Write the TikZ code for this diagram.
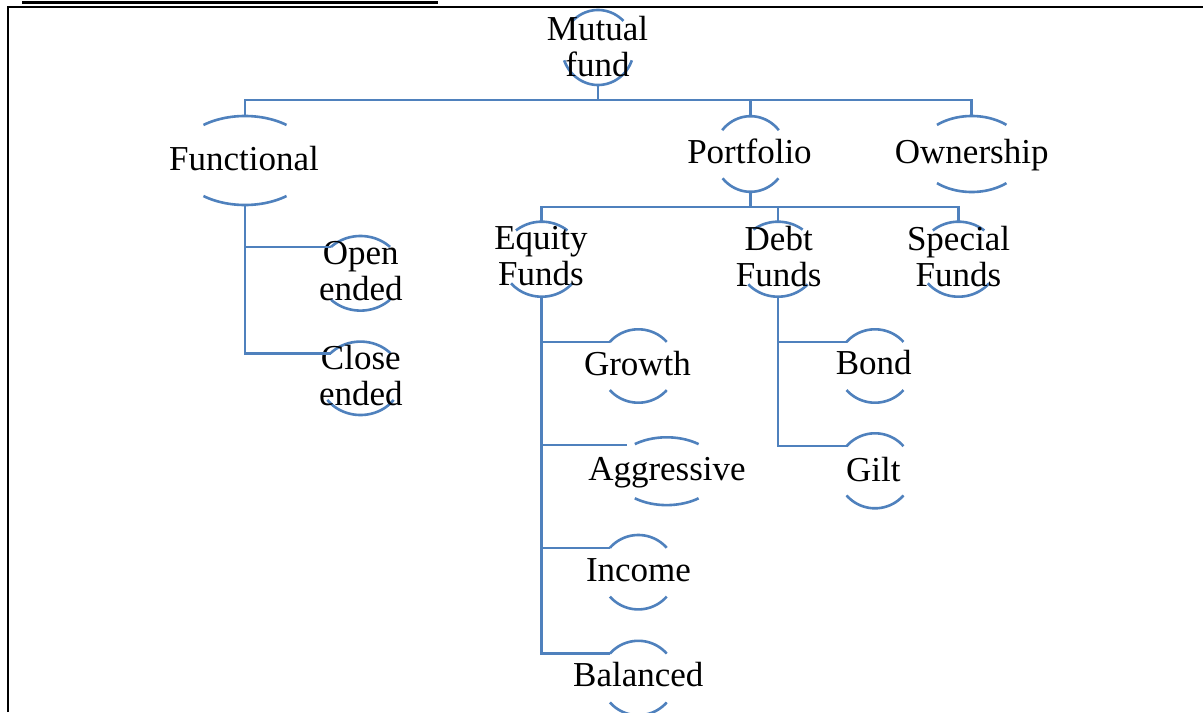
\documentclass[tikz,border=0pt]{standalone}
\usepackage{fontspec}
\setmainfont{Liberation Serif}
\definecolor{linkblue}{RGB}{79,129,189}
\tikzset{
  link/.style={draw=linkblue, line width=1.25pt},
  ring/.style={draw=linkblue, line width=1.3pt},
  fundtext/.style={inner sep=0pt, anchor=base, align=center,
    font=\fontsize{17.5}{18}\selectfont},
  rule/.style={draw=black, line width=1.15pt}
}
% open ring: top and bottom arcs of an ellipse
% #1 name, #2 cx, #3 cy, #4 x radius, #5 y radius, #6 top arc angle, #7 bottom arc angle
\newcommand\ringnode[7]{%
  \coordinate (#1-c) at (#2,#3);
  \coordinate (#1-n) at ({#2},{#3-#5});
  \coordinate (#1-s) at ({#2},{#3+#5});
  \coordinate (#1-w) at ({#2-#4*cos(#6)},{#3-#5*sin(#6)});
  \draw[ring] plot[domain={#6}:{180-#6}, samples=40, smooth]
    ({#2+#4*cos(\x)},{#3-#5*sin(\x)});
  \draw[ring] plot[domain={#7}:{180-#7}, samples=40, smooth]
    ({#2+#4*cos(\x)},{#3+#5*sin(\x)});
}
\begin{document}
\begin{tikzpicture}[x=0.5pt, y=-0.5pt]
\useasboundingbox (0,0) rectangle (1203,712);
\fill[white] (0,0) rectangle (1203,712);

% page rules and frame
\draw[rule] (22,2.4) -- (438.3,2.4);
\draw[rule] (7.8,712) -- (7.8,7.2) -- (1203,7.2);

% rings
\ringnode{mf}{598}{47.5}{36}{37.5}{45}{20}
\ringnode{fun}{245}{160.5}{69}{44.5}{53}{53}
\ringnode{port}{750.5}{154}{36.4}{37.8}{39}{40}
\ringnode{own}{971.7}{154}{54}{38}{50}{50}
\ringnode{open}{360.5}{273.3}{41.7}{37.3}{45}{45}
\ringnode{close}{360.5}{378.3}{41}{36.7}{43}{36}
\ringnode{eq}{541.7}{259.2}{40}{37.5}{50}{40}
\ringnode{debt}{778}{259.2}{40}{37.5}{52}{42}
\ringnode{spec}{958.5}{259.2}{40}{37.5}{50}{40}
\ringnode{gro}{638.3}{366}{37.7}{36.7}{41}{41}
\ringnode{agg}{666.7}{471.2}{53}{33.9}{53}{53}
\ringnode{inc}{638.3}{572.2}{37.6}{37.2}{41}{41}
\ringnode{bal}{638.3}{678}{37.6}{37.2}{41}{41}
\ringnode{bond}{875}{366}{37.7}{36.7}{41}{41}
\ringnode{gilt}{875}{470.8}{37.7}{37.5}{41}{41}
\coordinate (agg-end) at (626.7,445);

% labels (two-line labels sit on the baseline of their last line)
\node[fundtext] (mutual) at (597.5,76) {Mutual\\fund};
\node[fundtext] (functional) at (244,170) {Functional};
\node[fundtext] (portfolio) at (749.5,163.3) {Portfolio};
\node[fundtext] (ownership) at (971.7,163.3) {Ownership};
\node[fundtext] (openended) at (360.8,300) {Open\\ended};
\node[fundtext] (closeended) at (360.8,405) {Close\\ended};
\node[fundtext] (equity) at (541,285) {Equity\\Funds};
\node[fundtext] (debtfunds) at (778.7,286) {Debt\\Funds};
\node[fundtext] (special) at (958.5,286) {Special\\Funds};
\node[fundtext] (growth) at (637.5,375) {Growth};
\node[fundtext] (aggressive) at (667,480) {Aggressive};
\node[fundtext] (income) at (638.5,581.7) {Income};
\node[fundtext] (balanced) at (638.3,686.7) {Balanced};
\node[fundtext] (bondtxt) at (873.7,374) {Bond};
\node[fundtext] (gilttxt) at (873.3,481.7) {Gilt};

% connectors
\coordinate (bus1) at (0,100);
\coordinate (bus2) at (0,207);
\draw[link] (mf-s) -- (mf-s |- bus1);
\draw[link] (fun-n) |- (own-n |- bus1) -- (own-n);
\draw[link] (port-n) -- (port-n |- bus1);

\draw[link] (port-s) -- (port-s |- bus2);
\draw[link] (eq-n) |- (spec-n |- bus2) -- (spec-n);
\draw[link] (debt-n) -- (debt-n |- bus2);

\draw[link] (fun-s) |- (close-w);
\draw[link] (fun-s |- open-w) -- (open-w);

\draw[link] (eq-s) |- (bal-w);
\draw[link] (eq-s |- gro-w) -- (gro-w);
\draw[link] (eq-s |- agg-end) -- (agg-end);
\draw[link] (eq-s |- inc-w) -- (inc-w);

\draw[link] (debt-s) |- (gilt-w);
\draw[link] (debt-s |- bond-w) -- (bond-w);
\end{tikzpicture}
\end{document}
